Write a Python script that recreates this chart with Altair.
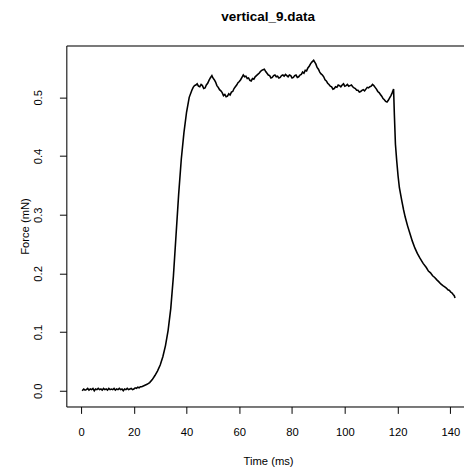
import altair as alt
import pandas as pd

# baseline before contraction
base_t = [0.4, 1.0, 1.5, 2.0, 2.5, 3.0, 3.5, 4.0, 4.5, 5.0, 5.5, 6.0, 6.5, 7.0, 7.5, 8.0,
          8.5, 9.0, 9.5, 10.0, 10.5, 11.0, 11.5, 12.0, 12.5, 13.0, 13.5, 14.0, 14.5, 15.0,
          15.5, 16.0, 16.5, 17.0, 17.5, 18.0, 18.5, 19.0, 19.5, 20.0, 20.5, 21.0, 21.5,
          22.0, 22.5]
base_f = [0.000, 0.003, 0.001, 0.002, 0.004, 0.001, 0.003, 0.002, 0.004, 0.000, 0.003,
          0.002, 0.004, 0.002, 0.003, 0.001, 0.004, 0.002, 0.003, 0.001, 0.004, 0.002,
          0.003, 0.002, 0.004, 0.001, 0.003, 0.002, 0.004, 0.002, 0.003, 0.000, 0.003,
          0.002, 0.004, 0.002, 0.003, 0.004, 0.002, 0.003, 0.005, 0.004, 0.006, 0.005,
          0.007]

# rising phase
rise_t = [23.0, 24.0, 25.0, 26.0, 27.0, 28.0, 29.0, 30.0, 31.0, 32.0, 33.0, 34.0, 35.0,
          36.0, 37.0, 38.0, 39.0, 40.0, 41.0, 42.0, 42.5, 43.0, 43.5]
rise_f = [0.007, 0.009, 0.011, 0.014, 0.019, 0.026, 0.034, 0.044, 0.058, 0.077, 0.103,
          0.140, 0.195, 0.265, 0.335, 0.395, 0.440, 0.475, 0.500, 0.512, 0.517, 0.520,
          0.521]

# plateau
plat_t = [44.0, 44.5, 45.0, 45.5, 46.0, 46.5, 47.0, 47.5, 48.0, 48.5, 49.0, 49.6, 50.0,
          50.5, 51.0, 51.5, 52.0, 52.5, 53.0, 53.5, 54.0, 54.5, 55.0, 55.5, 56.0, 56.5,
          57.0, 57.5, 58.0, 58.5, 59.0, 59.5, 60.0, 60.5, 61.0, 61.5, 62.0, 62.5, 63.0,
          63.5, 64.0, 64.5, 65.0, 65.5, 66.0, 66.5, 67.0, 67.5, 68.0, 68.5, 69.0, 69.5,
          70.0, 70.5, 71.0, 71.5, 72.0, 72.5, 73.0, 73.5, 74.0, 74.5, 75.0, 75.5, 76.0,
          76.5, 77.0, 77.5, 78.0, 78.5, 79.0, 79.5, 80.0, 80.5, 81.0, 81.5, 82.0, 82.5,
          83.0, 83.5, 84.0, 84.5, 85.0, 85.5, 86.0, 86.5, 87.0, 87.5, 88.2, 88.6, 89.0,
          89.5, 90.0, 90.5, 91.0, 91.5, 92.0, 92.5, 93.0, 93.5, 94.0, 94.5, 95.0, 95.5,
          96.0, 96.5, 97.0, 97.5, 98.0, 98.5, 99.0, 99.5, 100.0, 100.5, 101.0, 101.5,
          102.0, 102.5, 103.0, 103.5, 104.0, 104.5, 105.0, 105.5, 106.0, 106.5, 107.0,
          107.5, 108.0, 108.5, 109.0, 109.5, 110.0, 110.5, 111.0, 111.5, 112.0, 112.5,
          113.0, 113.5, 114.0, 114.5, 115.0, 115.5, 116.0, 116.5, 117.0, 117.5, 118.0,
          118.5]
plat_f = [0.523, 0.519, 0.518, 0.522, 0.520, 0.515, 0.516, 0.521, 0.524, 0.529, 0.533,
          0.537, 0.533, 0.530, 0.526, 0.520, 0.517, 0.513, 0.511, 0.508, 0.503, 0.505,
          0.501, 0.502, 0.506, 0.504, 0.509, 0.510, 0.515, 0.518, 0.521, 0.525, 0.527,
          0.530, 0.534, 0.538, 0.535, 0.536, 0.532, 0.533, 0.529, 0.528, 0.532, 0.531,
          0.535, 0.537, 0.539, 0.541, 0.544, 0.546, 0.547, 0.548, 0.544, 0.541, 0.538,
          0.537, 0.533, 0.534, 0.537, 0.538, 0.535, 0.536, 0.533, 0.534, 0.537, 0.538,
          0.536, 0.539, 0.537, 0.535, 0.538, 0.537, 0.533, 0.534, 0.537, 0.538, 0.534,
          0.535, 0.538, 0.539, 0.543, 0.541, 0.546, 0.545, 0.550, 0.553, 0.557, 0.560,
          0.563, 0.560, 0.557, 0.551, 0.548, 0.543, 0.540, 0.538, 0.535, 0.530, 0.528,
          0.524, 0.522, 0.519, 0.518, 0.514, 0.515, 0.518, 0.517, 0.521, 0.520, 0.518,
          0.521, 0.523, 0.519, 0.520, 0.522, 0.519, 0.520, 0.521, 0.518, 0.516, 0.515,
          0.512, 0.512, 0.509, 0.510, 0.512, 0.513, 0.511, 0.514, 0.517, 0.516, 0.518,
          0.519, 0.522, 0.520, 0.517, 0.514, 0.510, 0.508, 0.505, 0.502, 0.498, 0.496,
          0.493, 0.492, 0.495, 0.499, 0.503, 0.508, 0.514]

# relaxation
decay_t = [118.8, 119.2, 119.7, 120.2, 120.7, 121.6, 122.3, 122.9, 123.8, 124.7, 125.6,
           126.6, 127.5, 128.5, 129.7, 130.9, 131.7, 132.5, 133.3, 134.1, 134.9, 135.6,
           136.4, 137.2, 137.9, 138.5, 139.1, 139.7, 140.2, 140.6, 141.1, 141.5, 141.8]
decay_f = [0.470, 0.420, 0.391, 0.366, 0.346, 0.324, 0.308, 0.296, 0.281, 0.268, 0.255,
           0.243, 0.234, 0.226, 0.217, 0.210, 0.204, 0.201, 0.196, 0.193, 0.189, 0.186,
           0.182, 0.179, 0.177, 0.175, 0.172, 0.171, 0.168, 0.167, 0.164, 0.162, 0.158]

x_ticks = [0, 20, 40, 60, 80, 100, 120, 140]
y_ticks = [0.0, 0.1, 0.2, 0.3, 0.4, 0.5]

df = pd.DataFrame({
    "t": base_t + rise_t + plat_t + decay_t,
    "f": base_f + rise_f + plat_f + decay_f,
})

FONT = "Liberation Sans"
W = 404.3
H = 367

xscale = alt.Scale(domain=[-5.6, 145.2], nice=False, zero=False)
yscale = alt.Scale(domain=[-0.0268, 0.5883], nice=False, zero=False)

yenc = alt.Y("f:Q", scale=yscale, title="Force (mN)",
             axis=alt.Axis(values=y_ticks, format=".1f", labelAngle=-90, labelPadding=16,
                           tickSize=7, tickColor="black", domainColor="black",
                           labelColor="black", labelFont=FONT, labelFontSize=11.4,
                           titleFont=FONT, titleFontSize=11.4, titleFontWeight="normal",
                           titleColor="black", titleX=-41, titleY=H / 2,
                           titleBaseline="middle", grid=False))

base = alt.Chart(df).mark_line(color="black", strokeWidth=1.6, interpolate="linear").encode(
    x=alt.X("t:Q", scale=xscale, title="Time (ms)",
            axis=alt.Axis(values=x_ticks, format="d", labelPadding=13, tickSize=7,
                          tickColor="black", domainColor="black", labelColor="black",
                          labelFont=FONT, labelFontSize=11.4, titleFont=FONT,
                          titleFontSize=11.4, titleFontWeight="normal", titleColor="black",
                          titleX=205.1, titleY=56, titleBaseline="middle", grid=False)),
    y=yenc,
)

top = alt.Chart(df).mark_line(opacity=0).encode(
    x=alt.X("t:Q", scale=xscale, title=None,
            axis=alt.Axis(orient="top", labels=False, ticks=False, domainColor="black",
                          grid=False, title=None)),
    y=yenc,
)

chart = alt.layer(base, top).resolve_axis(x="independent").properties(
    width=W, height=H,
    autosize=alt.AutoSizeParams(type="none"),
    padding={"left": 59.3, "top": 34.3, "right": 0, "bottom": 60},
    title=alt.TitleParams("vertical_9.data", font=FONT, fontSize=13.7, fontWeight="bold",
                          color="black", anchor="middle", frame="group", dx=3,
                          baseline="alphabetic", offset=11.5),
).configure_view(stroke=None).configure(background="white")

chart.save("out.html", embed_options={"renderer": "svg", "actions": False})
